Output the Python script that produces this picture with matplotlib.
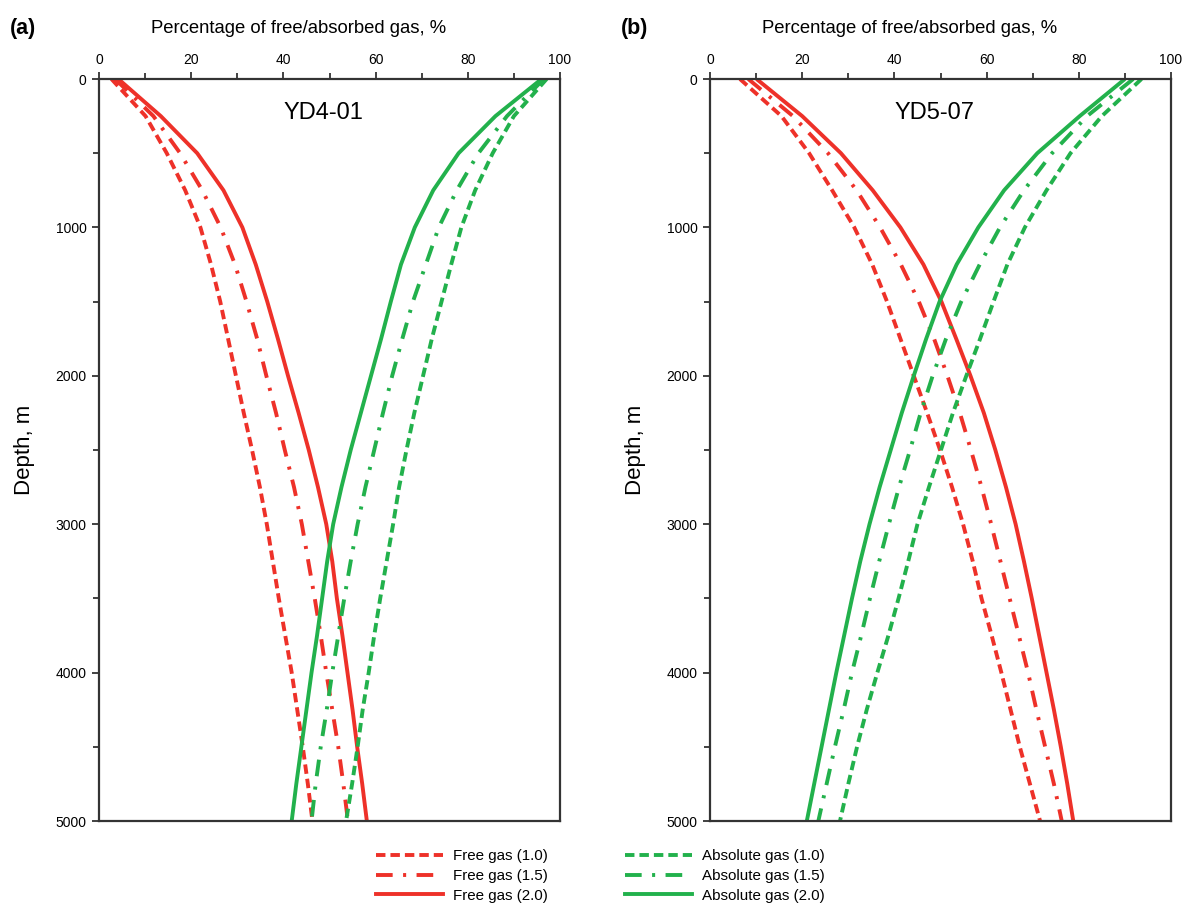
import matplotlib
matplotlib.use("Agg")
import matplotlib.pyplot as plt
from matplotlib.ticker import MultipleLocator
from matplotlib.lines import Line2D

plt.rcParams['font.family'] = ['Liberation Sans', 'DejaVu Sans']
plt.rcParams['lines.scale_dashes'] = False

depth = [0, 250, 500, 750, 1000, 1250, 1500, 1750, 2000, 2250, 2500,
         2750, 3000, 3250, 3500, 3750, 4000, 4250, 4500, 4750, 5000]

# Panel (a) YD4-01
a_free_10 = [2.7, 10.1, 14.7, 18.7, 22.0, 24.3, 26.3, 28.0, 29.7, 31.4, 33.2,
             34.9, 36.4, 37.7, 39.0, 40.4, 41.8, 43.0, 44.2, 45.3, 46.3]
a_free_15 = [3.5, 11.8, 17.6, 22.4, 26.4, 29.5, 32.0, 34.3, 36.3, 38.4, 40.3,
             42.3, 44.0, 45.4, 46.8, 48.1, 49.3, 50.6, 51.9, 53.0, 54.0]
a_free_20 = [4.2, 13.4, 21.3, 27.0, 31.1, 34.0, 36.5, 38.8, 41.0, 43.3, 45.5,
             47.5, 49.3, 50.6, 51.6, 52.8, 53.9, 55.0, 56.0, 57.1, 58.1]
a_abs_10 = [97.1, 90.0, 85.4, 81.6, 78.6, 76.4, 74.3, 72.2, 70.3, 68.4, 66.7,
            65.1, 63.8, 62.4, 61.0, 59.7, 58.5, 57.2, 56.1, 54.9, 53.6]
a_abs_15 = [96.5, 88.5, 82.3, 77.6, 73.7, 70.9, 68.1, 65.8, 63.6, 61.6, 59.7,
            57.8, 56.1, 54.6, 53.2, 51.9, 50.6, 49.4, 48.1, 47.0, 46.1]
a_abs_20 = [96.0, 86.0, 78.0, 72.5, 68.5, 65.5, 63.3, 61.2, 59.0, 56.8, 54.6,
            52.6, 50.8, 49.5, 48.4, 47.3, 46.1, 45.0, 43.9, 42.8, 41.8]

# Panel (b) YD5-07
b_free_10 = [6.5, 15.5, 21.5, 26.5, 31.3, 35.2, 38.4, 41.3, 44.2, 47.1, 49.9,
             52.5, 54.9, 57.0, 58.9, 61.1, 63.2, 65.2, 67.2, 69.4, 71.6]
b_free_15 = [8.3, 18.0, 25.6, 31.8, 36.9, 41.4, 45.3, 48.6, 51.5, 54.2, 56.6,
             58.9, 61.0, 63.0, 65.0, 67.0, 69.0, 70.8, 72.7, 74.6, 76.3]
b_free_20 = [10.1, 20.0, 28.4, 35.3, 41.3, 46.3, 50.2, 53.4, 56.5, 59.4, 61.9,
             64.2, 66.3, 68.1, 69.8, 71.4, 73.0, 74.6, 76.1, 77.5, 78.8]
b_abs_10 = [93.6, 85.0, 78.2, 73.0, 68.3, 64.5, 61.5, 58.6, 55.6, 52.7, 50.1,
            47.5, 45.0, 43.0, 40.9, 38.7, 36.3, 34.0, 31.9, 30.0, 28.2]
b_abs_15 = [91.8, 81.8, 74.2, 68.1, 62.9, 58.5, 54.5, 51.2, 48.3, 45.7, 43.4,
            41.0, 38.8, 36.7, 34.7, 32.8, 30.8, 29.0, 27.1, 25.3, 23.5]
b_abs_20 = [90.0, 80.2, 71.0, 63.8, 58.2, 53.5, 49.8, 46.9, 44.2, 41.6, 39.2,
            36.8, 34.6, 32.6, 30.8, 29.1, 27.4, 25.8, 24.2, 22.6, 21.0]

labels_free = ['Free gas (1.0)', 'Free gas (1.5)', 'Free gas (2.0)']
labels_abs = ['Absolute gas (1.0)', 'Absolute gas (1.5)', 'Absolute gas (2.0)']
well_names = ['YD4-01', 'YD5-07']
panel_tags = ['(a)', '(b)']

RED = '#EE3129'
GREEN = '#22B14C'
SPINE = '#333333'
LW = 2.8
styles = [(0, (6.8, 3.6)), (0, (12, 7.5, 2.2, 7.5)), '-']

fig = plt.figure(figsize=(11.84, 9.05), dpi=100)
axes = [fig.add_axes([99/1184, 1-821/905, 461/1184, 742/905]),
        fig.add_axes([710/1184, 1-821/905, 461/1184, 742/905])]

data = [([a_free_10, a_free_15, a_free_20], [a_abs_10, a_abs_15, a_abs_20]),
        ([b_free_10, b_free_15, b_free_20], [b_abs_10, b_abs_15, b_abs_20])]

for ax, (free, ab), name, tag in zip(axes, data, well_names, panel_tags):
    for vals, ls in zip(free, styles):
        ax.plot(vals, depth, color=RED, lw=LW, linestyle=ls,
                solid_capstyle='butt', dash_capstyle='butt', solid_joinstyle='round')
    for vals, ls in zip(ab, styles):
        ax.plot(vals, depth, color=GREEN, lw=LW, linestyle=ls,
                solid_capstyle='butt', dash_capstyle='butt', solid_joinstyle='round')
    ax.set_xlim(0, 100)
    ax.set_ylim(5000, 0)
    ax.xaxis.tick_top()
    ax.xaxis.set_major_locator(MultipleLocator(20))
    ax.xaxis.set_minor_locator(MultipleLocator(10))
    ax.yaxis.set_major_locator(MultipleLocator(1000))
    ax.yaxis.set_minor_locator(MultipleLocator(500))
    ax.tick_params(which='both', direction='out', color=SPINE, width=1.3, labelsize=10,
                   top=True, bottom=False, left=True, right=False)
    ax.tick_params(which='major', length=5, pad=4)
    ax.tick_params(which='minor', length=4)
    for sp in ax.spines.values():
        sp.set_color(SPINE)
        sp.set_linewidth(1.6)
    ax.text(0.433, 1.068, 'Percentage of free/absorbed gas, %', transform=ax.transAxes,
            ha='center', va='center', fontsize=13.3)
    ax.text(0.486, 0.954, name, transform=ax.transAxes, ha='center', va='center', fontsize=17)
    ax.set_ylabel('Depth, m', fontsize=16, labelpad=15)
    ax.text(-0.193, 1.068, tag, transform=ax.transAxes, ha='left', va='center',
            fontsize=15.5, fontweight='bold')

handles_free = [Line2D([], [], color=RED, lw=LW, linestyle=ls) for ls in styles]
handles_abs = [Line2D([], [], color=GREEN, lw=LW, linestyle=ls) for ls in styles]
common = dict(loc='center', frameon=False, fontsize=10.9, handlelength=4.4,
              labelspacing=0.38, handletextpad=0.66, borderpad=0.2)
fig.legend(handles_free, labels_free, bbox_to_anchor=(462/1184, 1-876/905), **common)
fig.legend(handles_abs, labels_abs, bbox_to_anchor=(725/1184, 1-876/905), **common)

fig.savefig('out.png', dpi=100)
